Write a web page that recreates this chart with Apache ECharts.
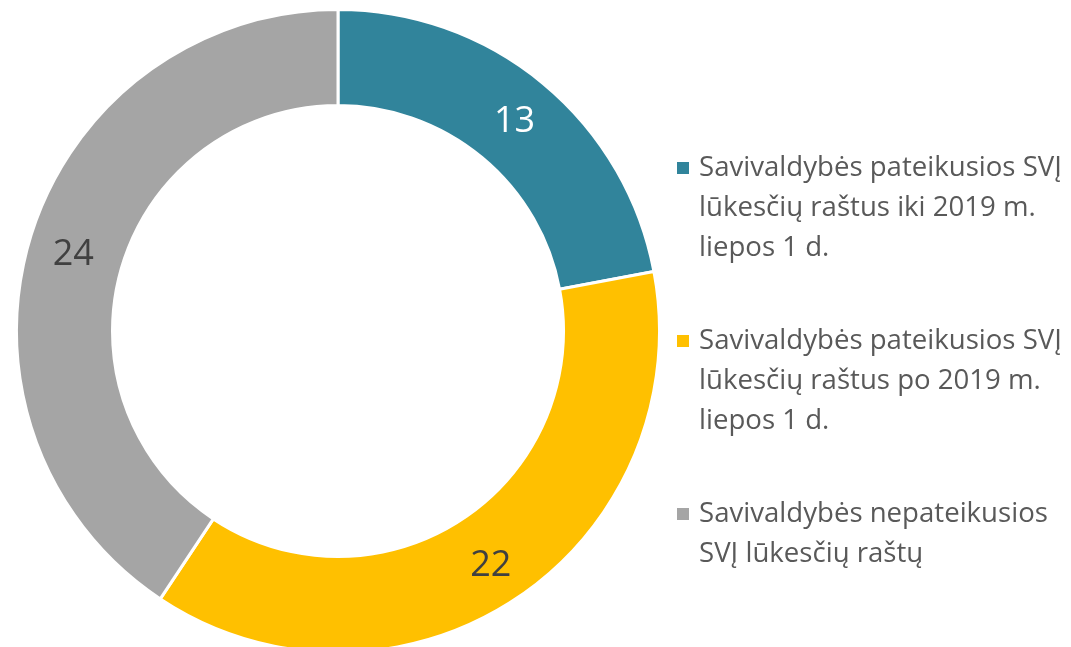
<!DOCTYPE html>
<html lang="lt">
<head>
  <meta charset="UTF-8">
  <script src="https://cdn.jsdelivr.net/npm/echarts@6/dist/echarts.min.js"></script>
  <title>SVĮ lūkesčių raštai</title>
  <style>
    html, body { margin: 0; padding: 0; background: #fff; }
  </style>
</head>
<body>
  <div id="donut" style="width: 1071px; height: 647px;"></div>

  <script>
    // kategorijos (serijos pavadinimai)
    var categories = [
      'Savivaldybės pateikusios SVĮ lūkesčių raštus iki 2019 m. liepos 1 d.',
      'Savivaldybės pateikusios SVĮ lūkesčių raštus po 2019 m. liepos 1 d.',
      'Savivaldybės nepateikusios SVĮ lūkesčių raštų'
    ];
    // legendos tekstas su eilučių laužymu
    var legendText = [
      'Savivaldybės pateikusios SVĮ\nlūkesčių raštus iki 2019 m.\nliepos 1 d.',
      'Savivaldybės pateikusios SVĮ\nlūkesčių raštus po 2019 m.\nliepos 1 d.',
      'Savivaldybės nepateikusios\nSVĮ lūkesčių raštų'
    ];
    var values = [13, 22, 24];

    var colors = ['#31849B', '#FFC000', '#A5A5A5'];
    var labelColors = ['#FFFFFF', '#404040', '#404040'];

    var fontFamily = '"Open Sans", "Noto Sans", sans-serif';
    var lineH = 40;
    // y of each legend marker centre
    var legendY = [168, 341, 514];

    var chartDom = document.getElementById('donut');
    var myChart = echarts.init(chartDom);

    var seriesData = [];
    for (var i = 0; i < values.length; i++) {
      seriesData.push({
        name: categories[i],
        value: values[i],
        itemStyle: { color: colors[i] },
        label: { color: labelColors[i] }
      });
    }

    // one legend per item so the marker sits on the first text line
    var legends = [];
    for (var j = 0; j < categories.length; j++) {
      var n = legendText[j].split('\n').length;
      legends.push({
        orient: 'vertical',
        left: 675,
        top: legendY[j] - (2 * n - 1) * lineH / 2,
        padding: 0,
        itemWidth: 14,
        itemHeight: 14,
        icon: 'rect',
        selectedMode: false,
        data: [categories[j]],
        formatter: function (name) {
          return legendText[categories.indexOf(name)];
        },
        textStyle: {
          fontFamily: fontFamily,
          fontSize: 27.6,
          color: '#595959',
          lineHeight: lineH,
          padding: [(n - 1) * lineH, 0, 0, 4],
          rich: { t: {} }
        }
      });
    }

    var options = {
      animation: false,
      legend: legends,
      series: [
        {
          type: 'pie',
          center: [338, 331],
          radius: [225.5, 321.5],
          startAngle: 90,
          clockwise: true,
          avoidLabelOverlap: false,
          itemStyle: {
            borderColor: '#FFFFFF',
            borderWidth: 3
          },
          label: {
            show: true,
            position: 'inside',
            formatter: '{c}',
            fontFamily: fontFamily,
            fontSize: 36,
            offset: [0, 4]
          },
          labelLine: { show: false },
          emphasis: { disabled: true },
          data: seriesData
        }
      ]
    };

    myChart.setOption(options);
  </script>
</body>
</html>
